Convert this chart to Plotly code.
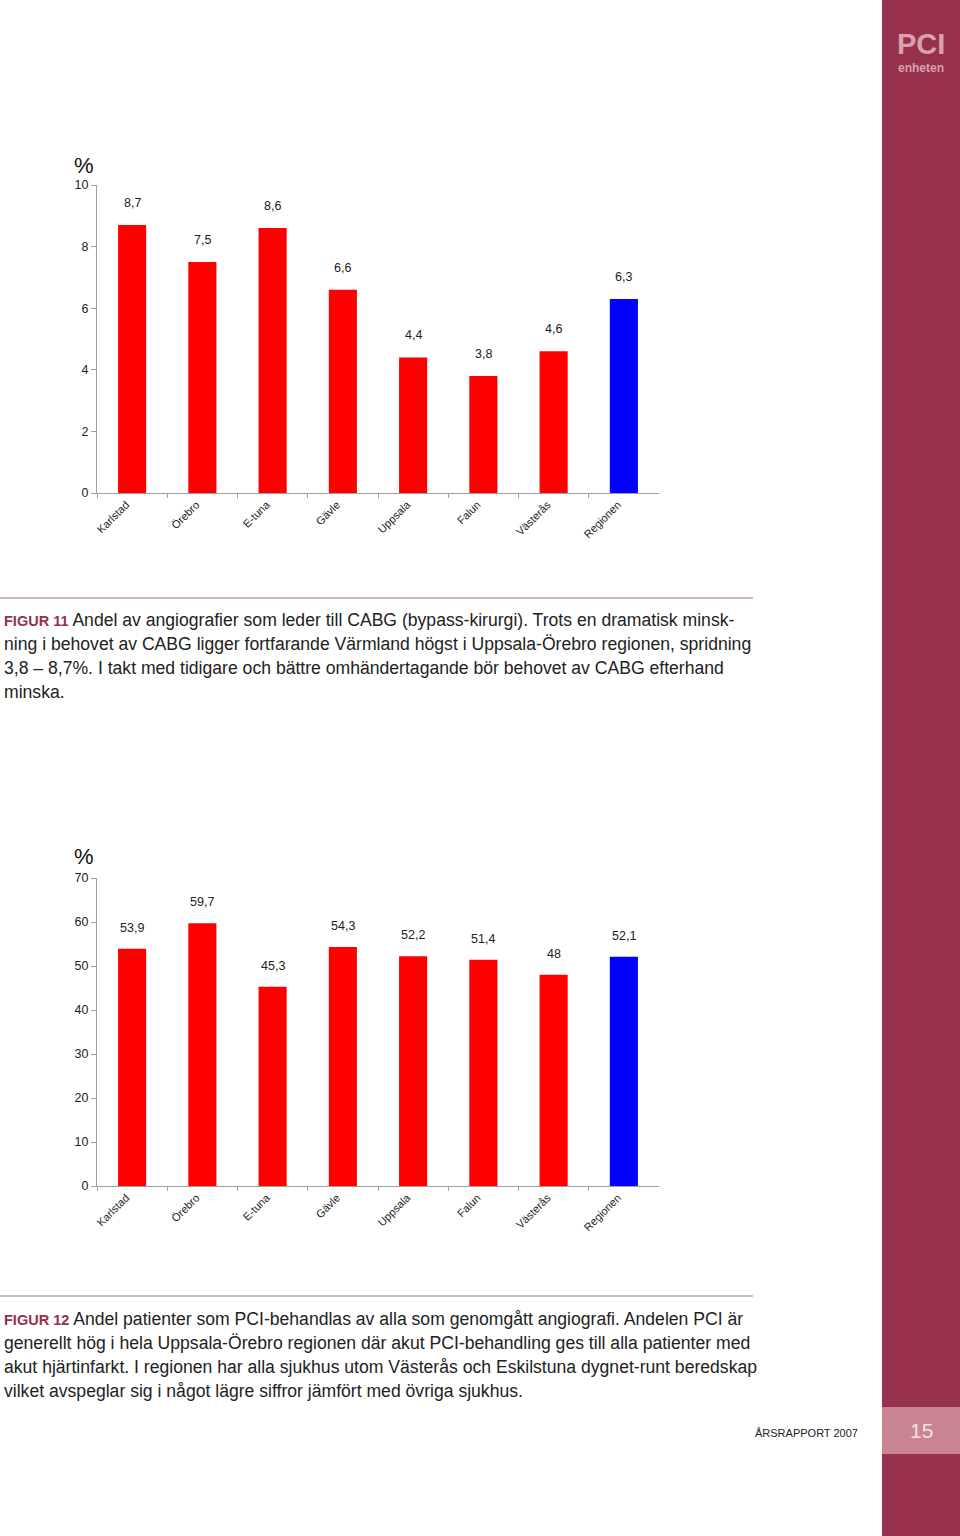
import plotly.graph_objects as go

# ---- data ----
categories = ["Karlstad", "Örebro", "E-tuna", "Gävle", "Uppsala", "Falun", "Västerås", "Regionen"]
cabg_pct = [8.7, 7.5, 8.6, 6.6, 4.4, 3.8, 4.6, 6.3]
pci_pct = [53.9, 59.7, 45.3, 54.3, 52.2, 51.4, 48, 52.1]
yticks_1 = [0, 2, 4, 6, 8, 10]
yticks_2 = [0, 10, 20, 30, 40, 50, 60, 70]

caption_11 = [
    "Andel av angiografier som leder till CABG (bypass-kirurgi). Trots en dramatisk minsk-",
    "ning i behovet av CABG ligger fortfarande Värmland högst i Uppsala-Örebro regionen, spridning",
    "3,8 – 8,7%. I takt med tidigare och bättre omhändertagande bör behovet av CABG efterhand",
    "minska.",
]
caption_12 = [
    "Andel patienter som PCI-behandlas av alla som genomgått angiografi. Andelen PCI är",
    "generellt hög i hela Uppsala-Örebro regionen där akut PCI-behandling ges till alla patienter med",
    "akut hjärtinfarkt. I regionen har alla sjukhus utom Västerås och Eskilstuna dygnet-runt beredskap",
    "vilket avspeglar sig i något lägre siffror jämfört med övriga sjukhus.",
]

W, H = 960, 1536
def px(x): return x / W
def py(y): return 1 - y / H

RED = "#FF0000"
BLUE = "#0000FF"
MAROON = "#96304B"
FONT = "Liberation Sans, Arial, sans-serif"

def fmt(v):
    return (f"{v:g}").replace(".", ",")

colors = [BLUE if c == "Regionen" else RED for c in categories]

fig = go.Figure()
fig.add_trace(go.Bar(x=categories, y=cabg_pct, marker=dict(color=colors, line=dict(width=0)),
                     xaxis="x", yaxis="y", hoverinfo="skip"))
fig.add_trace(go.Bar(x=categories, y=pci_pct, marker=dict(color=colors, line=dict(width=0)),
                     xaxis="x2", yaxis="y2", hoverinfo="skip"))

annotations = []
for c, v in zip(categories, cabg_pct):
    annotations.append(dict(x=c, y=v, xref="x", yref="y", text=fmt(v), showarrow=False,
                            xanchor="center", yanchor="middle",
                            yshift=22, font=dict(family=FONT, size=12.5, color="#222")))
for c, v in zip(categories, pci_pct):
    annotations.append(dict(x=c, y=v, xref="x2", yref="y2", text=fmt(v), showarrow=False,
                            xanchor="center", yanchor="middle",
                            yshift=21, font=dict(family=FONT, size=12.5, color="#222")))

# % signs
annotations.append(dict(x=px(72), y=py(165), xref="paper", yref="paper", xanchor="left", yanchor="middle",
                        text="%", showarrow=False, font=dict(family=FONT, size=22, color="#111")))
annotations.append(dict(x=px(72), y=py(856), xref="paper", yref="paper", xanchor="left", yanchor="middle",
                        text="%", showarrow=False, font=dict(family=FONT, size=22, color="#111")))

def caption(lines, label, y0):
    for i, line in enumerate(lines):
        txt = line
        if i == 0:
            txt = f"<span style='color:{MAROON};font-size:14.5px'><b>{label}</b></span> " + line
        annotations.append(dict(x=px(2), y=py(y0 + 24 * i), xref="paper", yref="paper",
                                xanchor="left", yanchor="middle", text=txt, showarrow=False,
                                font=dict(family=FONT, size=17.6, color="#222")))

caption(caption_11, "FIGUR 11", 620)
caption(caption_12, "FIGUR 12", 1319)

# logo and footer
annotations.append(dict(x=px(921), y=py(44), xref="paper", yref="paper", text="<b>PCI</b>", showarrow=False,
                        xanchor="center", yanchor="middle",
                        font=dict(family=FONT, size=29, color="#D9A1AC")))
annotations.append(dict(x=px(921), y=py(68), xref="paper", yref="paper", text="<b>enheten</b>", showarrow=False,
                        xanchor="center", yanchor="middle",
                        font=dict(family=FONT, size=12, color="#D9A1AC")))
annotations.append(dict(x=px(860), y=py(1433), xref="paper", yref="paper", text="ÅRSRAPPORT 2007",
                        showarrow=False, xanchor="right", yanchor="middle",
                        font=dict(family=FONT, size=11, color="#222")))
annotations.append(dict(x=px(921), y=py(1430), xref="paper", yref="paper", text="15", showarrow=False,
                        xanchor="center", yanchor="middle",
                        font=dict(family=FONT, size=21, color="#F2E2E5")))

shapes = [
    dict(type="rect", xref="paper", yref="paper", x0=px(882), x1=1.05, y0=-0.05, y1=1.05,
         fillcolor=MAROON, line=dict(width=0), layer="below"),
    dict(type="rect", xref="paper", yref="paper", x0=px(882), x1=1.05, y0=py(1454), y1=py(1407),
         fillcolor="#C98592", line=dict(width=0), layer="below"),
    dict(type="line", xref="paper", yref="paper", x0=0, x1=px(753), y0=py(598), y1=py(598),
         line=dict(color="#A07080", width=1)),
    dict(type="line", xref="paper", yref="paper", x0=0, x1=px(753), y0=py(1296), y1=py(1296),
         line=dict(color="#A07080", width=1)),
]

xaxis_style = dict(type="category", showgrid=False, showline=True, linecolor="#A0A0A0", linewidth=1,
                   ticks="outside", tickson="boundaries", ticklen=4, tickcolor="#A0A0A0",
                   tickangle=-45, tickfont=dict(family=FONT, size=11, color="#222"),
                   ticklabelshift=-6,
                   domain=[px(97), px(659)], zeroline=False, fixedrange=True)
yaxis_style = dict(showgrid=False, showline=True, linecolor="#A0A0A0", linewidth=1, ticks="outside",
                   ticklen=5, tickcolor="#A0A0A0", tickfont=dict(family=FONT, size=12.5, color="#222"),
                   zeroline=False, fixedrange=True)

fig.update_layout(
    width=W, height=H, margin=dict(l=0, r=0, t=0, b=0, pad=0, autoexpand=False),
    paper_bgcolor="white", plot_bgcolor="white", showlegend=False,
    bargap=0.6,
    xaxis=dict(**xaxis_style, anchor="y"),
    xaxis2=dict(**xaxis_style, anchor="y2"),
    yaxis=dict(**yaxis_style, range=[0, 10], tickvals=yticks_1, anchor="x",
               domain=[py(493), py(185)]),
    yaxis2=dict(**yaxis_style, range=[0, 70], tickvals=yticks_2, anchor="x2",
                domain=[py(1186), py(878)]),
    annotations=annotations, shapes=shapes,
)

fig.write_html("out.html", config={"displayModeBar": False})
